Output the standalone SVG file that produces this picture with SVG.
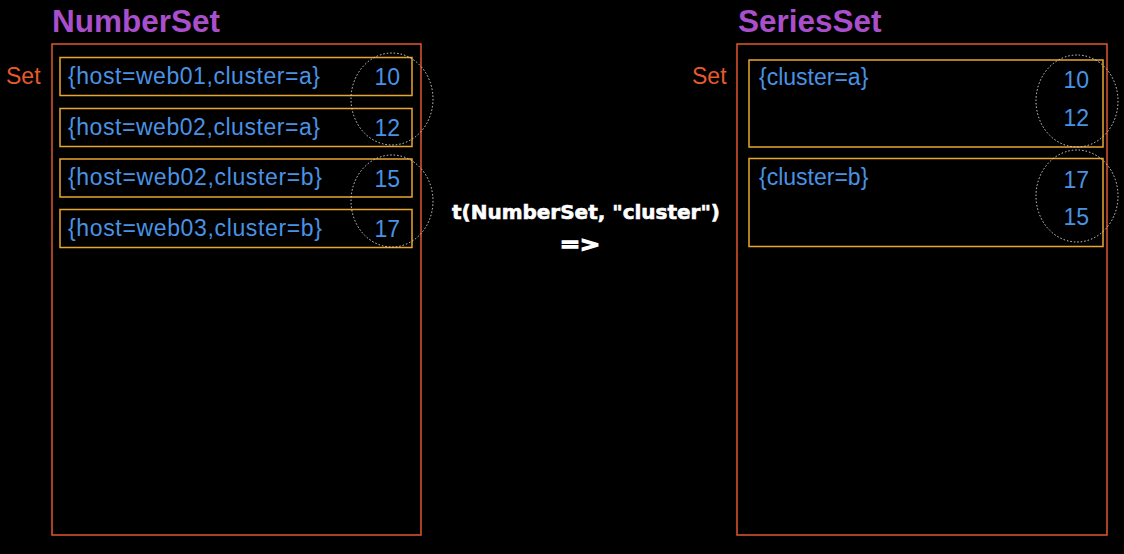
<svg xmlns="http://www.w3.org/2000/svg" width="1124" height="554" viewBox="0 0 1124 554">
<style>
.bg{fill:#000}
.outer{fill:none;stroke:#e0582e;stroke-width:1.5}
.row{fill:none;stroke:#e9a62e;stroke-width:1.5}
.circ{fill:none;stroke:#d8d8d8;stroke-width:1;stroke-dasharray:1.5 2}
.title{font-family:"Liberation Sans",Arial,sans-serif;font-weight:bold;font-size:31.5px;fill:#a94fcc}
.set{font-family:"Liberation Sans",Arial,sans-serif;font-size:23px;fill:#e65a2c}
.lbl{font-family:"Liberation Sans",Arial,sans-serif;font-size:23px;fill:#4a92e4}
.num{font-family:"Liberation Sans",Arial,sans-serif;font-size:23px;fill:#4a92e4;text-anchor:end}
.op{font-family:"DejaVu Sans",sans-serif;font-weight:bold;font-size:20px;fill:#fff;text-anchor:middle}
</style>
<rect class="bg" x="0" y="0" width="1124" height="554"/>
<g id="numberset">
<text class="title" x="52" y="32">NumberSet</text>
<text class="set" x="6" y="84">Set</text>
<rect class="outer" x="52" y="44" width="369" height="491"/>
</g>
<g id="row1"><rect class="row" x="60" y="57.5" width="352" height="38"/><text class="lbl" x="68" y="84" textLength="252">{host=web01,cluster=a}</text><text class="num" x="400" y="85">10</text></g>
<g id="row2"><rect class="row" x="60" y="108.5" width="352" height="38"/><text class="lbl" x="68" y="135" textLength="252">{host=web02,cluster=a}</text><text class="num" x="400" y="136">12</text></g>
<g id="row3"><rect class="row" x="60" y="159" width="352" height="38"/><text class="lbl" x="68" y="185" textLength="254">{host=web02,cluster=b}</text><text class="num" x="400" y="187">15</text></g>
<g id="row4"><rect class="row" x="60" y="209.5" width="352" height="38"/><text class="lbl" x="68" y="236" textLength="254">{host=web03,cluster=b}</text><text class="num" x="400" y="237">17</text></g>
<g id="circles-left">
<ellipse class="circ" cx="392" cy="99" rx="41" ry="46"/>
<ellipse class="circ" cx="392" cy="201" rx="41" ry="46"/>
</g>
<g id="op">
<text class="op" x="586" y="219" textLength="268" stroke="#fff" stroke-width="0.6">t(NumberSet, "cluster")</text>
<text class="op" x="580" y="251" font-size="30" stroke="#fff" stroke-width="1.5" textLength="40" lengthAdjust="spacingAndGlyphs">=&gt;</text>
</g>
<g id="seriesset">
<text class="title" x="738" y="32">SeriesSet</text>
<text class="set" x="692" y="84">Set</text>
<rect class="outer" x="737" y="44" width="370" height="491"/>
</g>
<g id="series-a"><rect class="row" x="749" y="60" width="354" height="87"/><text class="lbl" x="759" y="85">{cluster=a}</text><text class="num" x="1089" y="88">10</text><text class="num" x="1089" y="126">12</text></g>
<g id="series-b"><rect class="row" x="749" y="158.5" width="354" height="88"/><text class="lbl" x="759" y="185">{cluster=b}</text><text class="num" x="1089" y="188">17</text><text class="num" x="1089" y="225">15</text></g>
<g id="circles-right">
<ellipse class="circ" cx="1077" cy="101" rx="41" ry="46"/>
<ellipse class="circ" cx="1077" cy="196" rx="41" ry="46"/>
</g>
<g id="connectors"/>
</svg>
